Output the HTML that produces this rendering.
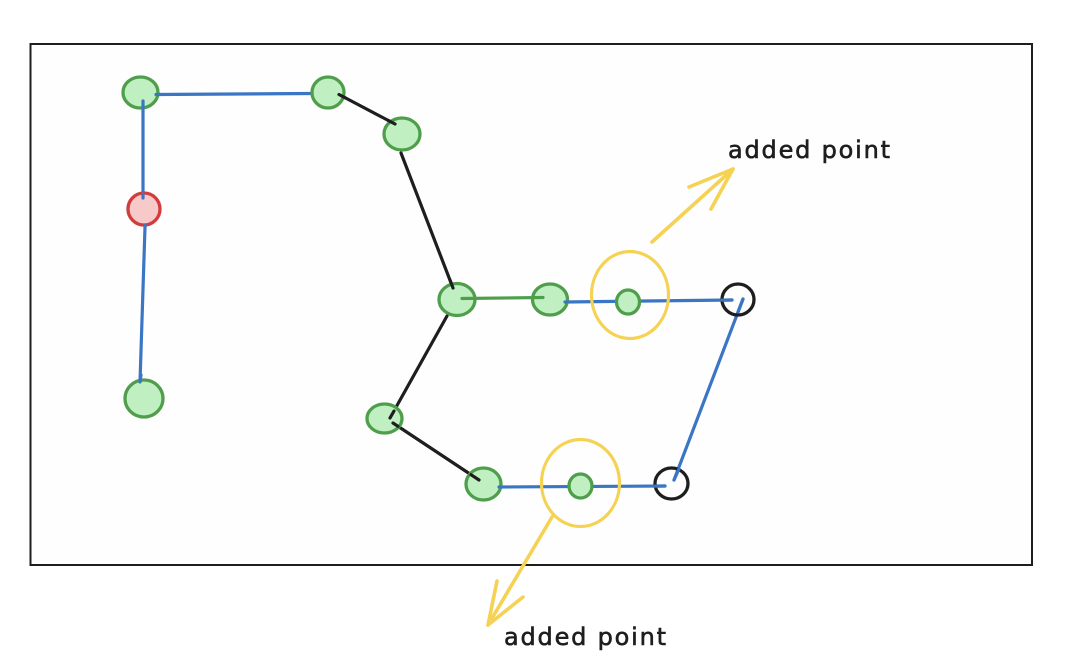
<!DOCTYPE html>
<html>
<head>
<meta charset="utf-8">
<style>
  html, body { margin: 0; padding: 0; background: #ffffff; }
  body { width: 1080px; height: 670px; overflow: hidden; }
  svg { display: block; }
  text { font-family: "DejaVu Sans", "Liberation Sans", sans-serif; font-size: 24px; fill: #1e1e1e; stroke: #1e1e1e; stroke-width: 0.6px; letter-spacing: 1.8px; }
</style>
</head>
<body>
<svg width="1080" height="670" viewBox="0 0 1080 670" xmlns="http://www.w3.org/2000/svg">
  <!-- frame -->
  <rect x="30.5" y="44" width="1001.5" height="521" fill="#fefefe" stroke="#1e1e1e" stroke-width="2"/>

  <g stroke-linecap="round" fill="none">
    <!-- blue lines -->
    <line x1="156" y1="94.5" x2="311" y2="93.5" stroke="#3a76c4" stroke-width="3.2"/>
    <line x1="143" y1="101" x2="143" y2="198" stroke="#3a76c4" stroke-width="3.2"/>
    <line x1="145" y1="227" x2="140" y2="382" stroke="#3a76c4" stroke-width="3.2"/>
    <line x1="565" y1="302" x2="732" y2="300" stroke="#3a76c4" stroke-width="3.2"/>
    <line x1="743" y1="299" x2="674" y2="480" stroke="#3a76c4" stroke-width="3.2"/>
    <line x1="499" y1="487" x2="665" y2="486" stroke="#3a76c4" stroke-width="3.2"/>
    <!-- black lines -->
    <line x1="339" y1="94.5" x2="395" y2="124" stroke="#1e1e1e" stroke-width="3.2"/>
    <line x1="401" y1="153" x2="453" y2="288" stroke="#1e1e1e" stroke-width="3.2"/>
    <line x1="447" y1="316" x2="390" y2="418" stroke="#1e1e1e" stroke-width="3.2"/>
    <line x1="393" y1="423" x2="479" y2="480" stroke="#1e1e1e" stroke-width="3.2"/>
  </g>

  <!-- nodes green -->
  <g fill="#c0f0c2" stroke="#4f9e4c" stroke-width="3.3">
    <ellipse cx="140.5" cy="92.5" rx="17.5" ry="15.5"/>
    <ellipse cx="328" cy="92.5" rx="16" ry="15.5"/>
    <ellipse cx="402" cy="134" rx="18" ry="16"/>
    <ellipse cx="144" cy="398.5" rx="19" ry="18.5"/>
    <ellipse cx="457" cy="299.5" rx="18" ry="16"/>
    <ellipse cx="550" cy="299.5" rx="17.5" ry="15.5"/>
    <ellipse cx="628" cy="302" rx="11.5" ry="12"/>
    <ellipse cx="384.5" cy="418.5" rx="17.5" ry="14.5"/>
    <ellipse cx="483.5" cy="484" rx="17.5" ry="16"/>
    <ellipse cx="580.5" cy="486" rx="11.5" ry="12"/>
  </g>
  <!-- connector ends drawn over nodes -->
  <g stroke-linecap="round" fill="none">
    <line x1="156" y1="94.5" x2="160" y2="94.5" stroke="#3a76c4" stroke-width="3.2"/>
    <line x1="143" y1="101" x2="143" y2="108" stroke="#3a76c4" stroke-width="3.2"/>
    <line x1="141" y1="375" x2="140" y2="382" stroke="#3a76c4" stroke-width="3.2"/>
    <line x1="339" y1="94.5" x2="345" y2="97.7" stroke="#1e1e1e" stroke-width="3.2"/>
    <line x1="388" y1="120.3" x2="395" y2="124" stroke="#1e1e1e" stroke-width="3.2"/>
    <line x1="450" y1="280" x2="453" y2="288" stroke="#1e1e1e" stroke-width="3.2"/>
    <line x1="390" y1="418" x2="394" y2="411" stroke="#1e1e1e" stroke-width="3.2"/>
    <line x1="393" y1="423" x2="398" y2="426.3" stroke="#1e1e1e" stroke-width="3.2"/>
    <line x1="471" y1="474.7" x2="479" y2="480" stroke="#1e1e1e" stroke-width="3.2"/>
    <line x1="462" y1="298.5" x2="543" y2="297.5" stroke="#4f9e4c" stroke-width="3.2"/>
    <line x1="565" y1="302" x2="568" y2="302" stroke="#3a76c4" stroke-width="3.2"/>
    <line x1="499" y1="487" x2="502" y2="487" stroke="#3a76c4" stroke-width="3.2"/>
  </g>

  <!-- red node -->
  <ellipse cx="144" cy="209" rx="16" ry="16" fill="#f7c9c9" stroke="#d23c3c" stroke-width="3.3"/>
  <line x1="143" y1="194" x2="143" y2="198" stroke="#3a76c4" stroke-width="3.2" stroke-linecap="round"/>
  <line x1="145" y1="225" x2="145" y2="227" stroke="#3a76c4" stroke-width="3.2" stroke-linecap="round"/>

  <!-- black open circles -->
  <g fill="none" stroke="#1e1e1e" stroke-width="3.3">
    <ellipse cx="738" cy="299.5" rx="16" ry="15.5"/>
    <ellipse cx="671.5" cy="483.5" rx="16.5" ry="15.5"/>
  </g>
  <g stroke="#3a76c4" stroke-width="3.2" stroke-linecap="round">
    <line x1="722" y1="300.1" x2="732" y2="300" />
    <line x1="743" y1="299" x2="738" y2="312" />
    <line x1="655" y1="486.1" x2="665" y2="486" />
    <line x1="679" y1="469" x2="674" y2="480" />
  </g>

  <!-- yellow highlight ellipses -->
  <g fill="none" stroke="#f6d254" stroke-width="3.2">
    <ellipse cx="630" cy="295" rx="38.5" ry="43.5"/>
    <ellipse cx="580.5" cy="483" rx="39" ry="43.5"/>
  </g>

  <!-- yellow arrows -->
  <g fill="none" stroke="#f6d254" stroke-width="3.6" stroke-linecap="round" stroke-linejoin="round">
    <line x1="652" y1="242" x2="733" y2="169"/>
    <polyline points="689,187 733,169 711,209"/>
    <line x1="552" y1="517" x2="488" y2="625"/>
    <polyline points="497,581 488,625 523,597"/>
  </g>

  <!-- labels -->
  <text x="728" y="158">added point</text>
  <text x="504" y="645">added point</text>
</svg>
</body>
</html>
